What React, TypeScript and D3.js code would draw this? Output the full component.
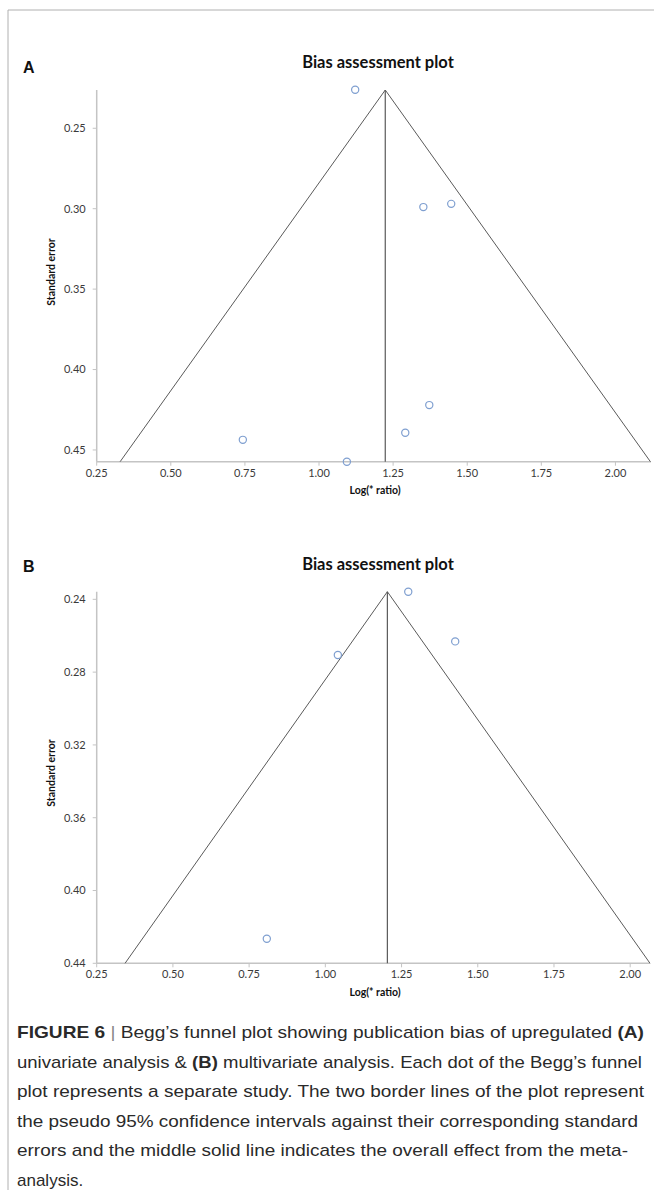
import React from "react";
import * as d3 from "d3";

// ---- Data ----
const X_TICKS = [0.25, 0.5, 0.75, 1.0, 1.25, 1.5, 1.75, 2.0];
const A_Y_TICKS = [0.25, 0.3, 0.35, 0.4, 0.45];
const B_Y_TICKS = [0.24, 0.28, 0.32, 0.36, 0.4, 0.44];

// Panel A studies: log ratio and standard error
const A_LOGR = [1.122, 1.352, 1.446, 1.372, 1.291, 0.743, 1.094];
const A_SE = [0.226, 0.299, 0.297, 0.4221, 0.4393, 0.4437, 0.4573];
// Panel A funnel (left bottom, apex, right bottom)
const A_FUNNEL_X = [0.329, 1.2235, 2.118];
const A_FUNNEL_SE = [0.4573, 0.2262, 0.4573];

// Panel B studies
const B_LOGR = [1.272, 1.426, 1.041, 0.808];
const B_SE = [0.2358, 0.2631, 0.2706, 0.4265];
const B_FUNNEL_X = [0.343, 1.2035, 2.065];
const B_FUNNEL_SE = [0.44, 0.2358, 0.44];

const TITLE = "Bias assessment plot";
const X_LABEL = "Log(* ratio)";
const Y_LABEL = "Standard error";

const FONT = "Lato, 'Open Sans', sans-serif";

type PanelProps = {
  letter: string;
  letterY: number;
  titleY: number;
  xDomain: [number, number];
  yDomain: [number, number];
  xRange: [number, number];
  yRange: [number, number];
  yTicks: number[];
  logr: number[];
  se: number[];
  fx: number[];
  fse: number[];
  yLabelY: number;
  xLabelY: number;
};

function Panel(p: PanelProps) {
  const x = d3.scaleLinear().domain(p.xDomain).range(p.xRange);
  const y = d3.scaleLinear().domain(p.yDomain).range(p.yRange);
  const fmt = d3.format(".2f");
  const x0 = p.xRange[0];
  const yBottom = p.yRange[1];
  const funnelPts: [number, number][] = p.fx.map((v, i) => [x(v), y(p.fse[i])]);
  const line = d3.line<[number, number]>();
  const axisColor = "#c4c4c4";
  const textColor = "#3a3a3a";
  return (
    <g>
      <text x={23} y={p.letterY} fontFamily="'Liberation Sans', Arial, sans-serif" fontWeight="bold" fontSize={16} fill="#111">
        {p.letter}
      </text>
      <text x={378} y={p.titleY} textAnchor="middle" fontFamily={FONT} fontWeight="bold" fontSize={16.5} fill="#111">
        {TITLE}
      </text>
      {/* axes */}
      <line x1={x0} x2={x0} y1={p.yRange[0]} y2={yBottom} stroke={axisColor} strokeWidth={1.5} />
      <line x1={x0} x2={p.xRange[1]} y1={yBottom} y2={yBottom} stroke={axisColor} strokeWidth={1.5} />
      {p.yTicks.map((t) => (
        <g key={"y" + t}>
          <line x1={x0 - 4} x2={x0} y1={y(t)} y2={y(t)} stroke={axisColor} strokeWidth={1} />
          <text x={x0 - 11} y={y(t)} dy="0.35em" textAnchor="end" fontFamily={FONT} fontSize={11} fill={textColor}>
            {fmt(t)}
          </text>
        </g>
      ))}
      {X_TICKS.map((t) => (
        <g key={"x" + t}>
          <line x1={x(t)} x2={x(t)} y1={yBottom} y2={yBottom + 4} stroke={axisColor} strokeWidth={1} />
          <text x={x(t)} y={yBottom + 15} textAnchor="middle" fontFamily={FONT} fontSize={11} fill={textColor}>
            {fmt(t)}
          </text>
        </g>
      ))}
      <text
        transform={`translate(51,${p.yLabelY}) rotate(-90)`}
        textAnchor="middle"
        dy="0.35em"
        fontFamily={FONT}
        fontWeight="bold"
        fontSize={10.5}
        fill="#111"
      >
        {Y_LABEL}
      </text>
      <text x={375} y={p.xLabelY} textAnchor="middle" fontFamily={FONT} fontWeight="bold" fontSize={10.5} fill="#111">
        {X_LABEL}
      </text>
      {/* funnel */}
      <path d={line(funnelPts) || ""} fill="none" stroke="#5a5a5a" strokeWidth={1} />
      <line
        x1={x(p.fx[1])}
        x2={x(p.fx[1])}
        y1={y(p.fse[1])}
        y2={yBottom}
        stroke="#5a5a5a"
        strokeWidth={1.2}
      />
      {p.logr.map((v, i) => (
        <circle key={"c" + i} cx={x(v)} cy={y(p.se[i])} r={3.6} fill="none" stroke="#7f9fd0" strokeWidth={1.2} />
      ))}
    </g>
  );
}

const CAPTION: { parts: { t: string; b?: boolean; thin?: boolean }[]; w?: number }[] = [
  {
    parts: [
      { t: "FIGURE 6", b: true },
      { t: " | ", thin: true },
      { t: "Begg\u2019s funnel plot showing publication bias of upregulated " },
      { t: "(A)", b: true },
    ],
    w: 627,
  },
  {
    parts: [
      { t: "univariate analysis & " },
      { t: "(B)", b: true },
      { t: " multivariate analysis. Each dot of the Begg\u2019s funnel" },
    ],
    w: 625,
  },
  { parts: [{ t: "plot represents a separate study. The two border lines of the plot represent" }], w: 627 },
  { parts: [{ t: "the pseudo 95% confidence intervals against their corresponding standard" }], w: 621 },
  { parts: [{ t: "errors and the middle solid line indicates the overall effect from the meta-" }], w: 611 },
  { parts: [{ t: "analysis." }] },
];

export default function App() {
  return (
    <svg
      width={654}
      height={1190}
      style={{ position: "absolute", left: 0, top: 0, background: "#fff" }}
    >
      <rect x={0} y={0} width={654} height={1190} fill="#fff" />
      <line x1={8} x2={654} y1={10} y2={10} stroke="#b0b0b0" strokeWidth={1} />
      <line x1={8} x2={8} y1={10} y2={1190} stroke="#b0b0b0" strokeWidth={1} />
      <Panel
        letter="A"
        letterY={73}
        titleY={68}
        xDomain={[0.25, 2.12]}
        yDomain={[0.2262, 0.4573]}
        xRange={[96.7, 651]}
        yRange={[90, 461.7]}
        yTicks={A_Y_TICKS}
        logr={A_LOGR}
        se={A_SE}
        fx={A_FUNNEL_X}
        fse={A_FUNNEL_SE}
        yLabelY={272}
        xLabelY={494}
      />
      <Panel
        letter="B"
        letterY={572}
        titleY={570}
        xDomain={[0.25, 2.065]}
        yDomain={[0.2358, 0.44]}
        xRange={[96.7, 650]}
        yRange={[591.7, 963.3]}
        yTicks={B_Y_TICKS}
        logr={B_LOGR}
        se={B_SE}
        fx={B_FUNNEL_X}
        fse={B_FUNNEL_SE}
        yLabelY={773}
        xLabelY={996}
      />
      {CAPTION.map((ln, i) => (
        <text
          key={"cap" + i}
          x={17}
          y={1038 + i * 29.6}
          fontFamily="'Liberation Sans', Arial, sans-serif"
          fontSize={17}
          fill="#2a2a2a"
          textLength={ln.w}
          lengthAdjust={ln.w ? "spacingAndGlyphs" : undefined}
        >
          {ln.parts.map((pt, j) => (
            <tspan key={j} fontWeight={pt.b ? "bold" : "normal"} fill={pt.thin ? "#888" : undefined}>
              {pt.t}
            </tspan>
          ))}
        </text>
      ))}
    </svg>
  );
}
